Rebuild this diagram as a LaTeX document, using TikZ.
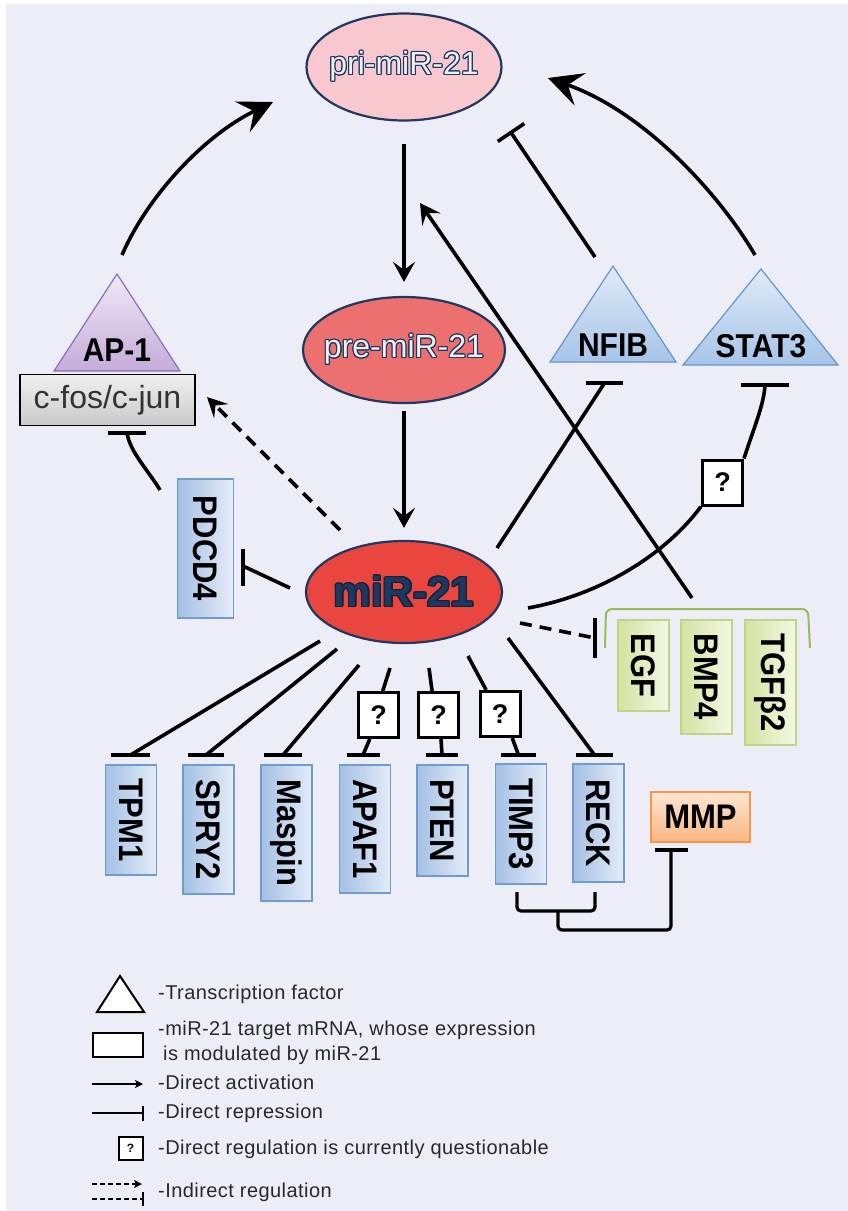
\documentclass[tikz,border=0pt]{standalone}
\usepackage{fontspec}
\setmainfont{Liberation Sans}
\newfontfamily\legfont[LetterSpace=2.2]{Liberation Sans}
\usepackage{contour}
\contourlength{1.1pt}
\usetikzlibrary{arrows.meta,shapes.geometric}
\definecolor{bgc}{RGB}{237,237,248}
\definecolor{navy}{RGB}{31,56,96}
\definecolor{pripink}{RGB}{248,200,206}
\definecolor{prered}{RGB}{236,112,112}
\definecolor{mirred}{RGB}{232,70,62}
\definecolor{blueL}{RGB}{228,236,248}
\definecolor{blueD}{RGB}{164,192,228}
\definecolor{blueB}{RGB}{110,155,208}
\definecolor{greenL}{RGB}{244,248,228}
\definecolor{greenD}{RGB}{212,226,160}
\definecolor{greenB}{RGB}{190,212,135}
\definecolor{brack}{RGB}{155,187,89}
\definecolor{purL}{RGB}{240,232,246}
\definecolor{purD}{RGB}{196,172,218}
\definecolor{purB}{RGB}{140,110,180}
\definecolor{orL}{RGB}{253,230,212}
\definecolor{orD}{RGB}{249,182,130}
\definecolor{orB}{RGB}{247,150,70}
\definecolor{triL}{RGB}{224,234,247}
\definecolor{triD}{RGB}{166,196,232}
\definecolor{triB}{RGB}{100,150,205}
\definecolor{txtlight}{RGB}{236,240,240}
\definecolor{legtxt}{RGB}{40,40,40}
\newcommand{\vlab}[1]{\rotatebox{-90}{\scalebox{1}[1.1]{#1}}}
\newcommand{\hlab}[1]{\scalebox{1}[1.1]{#1}}
\tikzset{
  conn/.style={line width=3.6pt, black},
  act/.style={conn, -{Stealth[length=20pt,width=22pt,inset=8pt]}},
  bigact/.style={conn, -{Stealth[length=34pt,width=34pt,inset=13pt]}},
  dashconn/.style={conn, dash pattern=on 12pt off 8pt},
  tbar/.style={line width=4pt, black},
  brk/.style={line width=3.2pt, black, rounded corners=4pt},
  qbox/.style={draw=black, line width=3pt, fill=white, minimum width=40pt, minimum height=45pt, inner sep=0pt, font=\bfseries\fontsize{27}{30}\selectfont},
  tbox/.style={draw=blueB, line width=1.5pt, left color=blueD, right color=blueL, inner sep=0pt, minimum width=51pt, font=\bfseries\fontsize{31}{36}\selectfont},
  gbox/.style={draw=greenB, line width=1.5pt, left color=greenD, right color=greenL, inner sep=0pt, minimum width=51pt, font=\bfseries\fontsize{31}{36}\selectfont},
  ell/.style={ellipse, draw=navy, line width=2.2pt, inner sep=0pt},
  lbl/.style={font=\bfseries\fontsize{30}{36}\selectfont, inner sep=0pt},
  legtext/.style={anchor=base west, font=\legfont\fontsize{20}{24}\selectfont, text=legtxt, inner sep=0pt},
  legline/.style={line width=1.4pt, black},
}
\begin{document}
\begin{tikzpicture}[x=1pt,y=-1pt]
\useasboundingbox (0,0) rectangle (848,1211);
\fill[white] (0,0) rectangle (848,1211);
\fill[bgc] (6,4) rectangle (848,1211);

% ---------- ellipses ----------
\node[ell, fill=pripink, minimum width=195pt, minimum height=107pt,
  label={[text=txtlight, font=\fontsize{32}{36}\selectfont]center:\contour{navy}{pri-miR-21}}] (pri) at (404,67) {};
\node[ell, fill=prered, minimum width=202pt, minimum height=106pt,
  label={[text=txtlight, font=\fontsize{32}{36}\selectfont]center:\contour{navy}{pre-miR-21}}] (pre) at (404,350) {};
\node[ell, fill=mirred, minimum width=196pt, minimum height=102pt,
  label={[text=navy, font=\bfseries\fontsize{42}{48}\selectfont]center:\contour{navy!60!black}{miR-21}}] (mir) at (404,592) {};

% ---------- triangles ----------
\shade[top color=purL, bottom color=purD, draw=purB, line width=1.2pt] (117,274) -- (180,371) -- (54,371) -- cycle;
\node[lbl] (ap1) at (117,350) {\hlab{AP-1}};
\shade[top color=triL, bottom color=triD, draw=triB, line width=1.2pt] (613,266) -- (676,362) -- (550,362) -- cycle;
\node[lbl] (nfib) at (613,345) {\hlab{NFIB}};
\shade[top color=triL, bottom color=triD, draw=triB, line width=1.2pt] (761,269) -- (838,365) -- (683,365) -- cycle;
\node[lbl] (stat3) at (761,346) {\hlab{STAT3}};

% ---------- c-fos/c-jun ----------
\node[draw=black, line width=1.5pt, top color=gray!12, bottom color=gray!42, minimum width=175pt, minimum height=51pt, inner sep=0pt, text=black!80, font=\fontsize{32}{36}\selectfont] (cfos) at (107.5,400) {c-fos/c-jun};

% ---------- target boxes ----------
\node[tbox, minimum width=56pt, minimum height=139pt] (pdcd4) at (205.5,548.5) {\vlab{PDCD4}};
\node[tbox, minimum height=110pt] (tpm1) at (131,820) {\vlab{TPM1}};
\node[tbox, minimum height=129pt] (spry2) at (208.5,829.5) {\vlab{SPRY2}};
\node[tbox, minimum height=136pt] (maspin) at (286.5,833) {\vlab{Maspin}};
\node[tbox, minimum height=128pt] (apaf1) at (365,829) {\vlab{APAF1}};
\node[tbox, minimum height=111pt] (pten) at (442.5,820.5) {\vlab{PTEN}};
\node[tbox, minimum height=120pt] (timp3) at (521,824) {\vlab{TIMP3}};
\node[tbox, minimum height=118pt] (reck) at (598.5,823) {\vlab{RECK}};
\node[gbox, minimum height=91pt] (egf) at (643.5,665.5) {\vlab{EGF}};
\node[gbox, minimum height=114pt] (bmp4) at (706.5,677) {\vlab{BMP4}};
\node[gbox, minimum height=125pt] (tgfb2) at (770.5,682.5) {\vlab{TGFβ2}};
\node[draw=orB, line width=1.5pt, top color=orL, bottom color=orD, minimum width=99pt, minimum height=50pt, inner sep=0pt, font=\bfseries\fontsize{31}{36}\selectfont] (mmp) at (700.5,817) {\hlab{MMP}};

% ---------- question boxes ----------
\node[qbox] (q1) at (722.5,482.5) {?};
\node[qbox] (q2) at (378.5,715) {?};
\node[qbox] (q3) at (438.5,715) {?};
\node[qbox] (q4) at (500,714) {?};

% ---------- coordinates for free ends ----------
\coordinate (ap1top) at (122,255);
\coordinate (priL) at (273,102);
\coordinate (stat3top) at (755,255);
\coordinate (priR) at (548,78);
\coordinate (nfibtop) at (595,257);
\coordinate (priNF) at (510,131);
\coordinate (bmpTop) at (692,598);
\coordinate (priB) at (420,203);
\coordinate (mirDL) at (340,530);
\coordinate (cfosTip) at (207,397);
\coordinate (mirNF) at (497,548);
\coordinate (nfibT) at (604.5,383);
\coordinate (mirS) at (528,608);
\coordinate (stat3T) at (765,385);
\coordinate (pdcdTop) at (160,490);
\coordinate (cfosT) at (127,433);
\coordinate (mirP) at (290,588);
\coordinate (pdcdT) at (243,566);
\coordinate (mirE) at (520,623);
\coordinate (egfT) at (595,638);
\coordinate (m1) at (320,641);
\coordinate (m2) at (337,649);
\coordinate (m3) at (359,665);
\coordinate (m4) at (390,668);
\coordinate (m5) at (429,668);
\coordinate (m6) at (468,656);
\coordinate (m7) at (508,638);
\coordinate (tpmT) at (130.5,755);
\coordinate (spryT) at (206,755);
\coordinate (maspT) at (283,755);
\coordinate (apafT) at (363,755);
\coordinate (ptenT) at (442,755);
\coordinate (timpT) at (518.5,755);
\coordinate (reckT) at (594.5,755);
\coordinate (timpB) at (517,892);
\coordinate (reckB) at (595,892);
\coordinate (jA) at (558,911);
\coordinate (mmpT) at (671,850);

% ---------- main pathway ----------
\draw[act, shorten <=22pt, shorten >=14pt] (pri.south) -- (pre.north);
\draw[act, shorten <=7pt, shorten >=12pt] (pre.south) -- (mir.north);
\draw[bigact] (ap1top) .. controls (148,195) and (205,135) .. (priL);
\draw[bigact] (stat3top) .. controls (720,195) and (645,112) .. (priR);
\draw[conn, -{Bar[width=32pt]}] (nfibtop) -- (priNF);
\draw[act] (bmpTop) -- (priB);
\draw[dashconn, -{Stealth[length=20pt,width=20pt,inset=8pt]}] (mirDL) -- (cfosTip);

% miR-21 -| NFIB
\draw[conn] (mirNF) -- (nfibT);
\draw[tbar] (nfibT) ++(-18.5,0) -- ++(37,0);
% miR-21 -? -| STAT3
\draw[conn] (mirS) .. controls (600,595) and (665,555) .. (q1.south west);
\draw[conn] (q1.north east) .. controls (753,430) and (764,405) .. (stat3T);
\draw[tbar] (stat3T) ++(-24,0) -- ++(48,0);
% PDCD4 -| c-fos/c-jun
\draw[conn] (pdcdTop) .. controls (148,470) and (130,452) .. (cfosT);
\draw[tbar] (cfosT) ++(-19,0) -- ++(38,0);
% miR-21 -| PDCD4
\draw[conn] (mirP) -- (pdcdT);
\draw[tbar] (pdcdT) ++(0,-17) -- ++(0,37);
% miR-21 --| EGF group
\draw[dashconn] (mirE) -- (egfT);
\draw[tbar] (egfT) ++(0,-20) -- ++(0,40);
\draw[brack, line width=2pt, rounded corners=6pt] (605,648) -- (606,609) -- (808,609) -- (810,648);

% bottom targets
\draw[conn] (m1) -- (tpmT);  \draw[tbar] (tpmT) ++(-19.5,0) -- ++(39,0);
\draw[conn] (m2) -- (spryT); \draw[tbar] (spryT) ++(-18,0) -- ++(36,0);
\draw[conn] (m3) -- (maspT); \draw[tbar] (maspT) ++(-19,0) -- ++(38,0);
\draw[conn] (m4) -- (q2.80);  \draw[conn] (q2.-110) -- (apafT); \draw[tbar] (apafT) ++(-16.5,0) -- ++(33,0);
\draw[conn] (m5) -- (q3.105); \draw[conn] (q3.-84) -- (ptenT); \draw[tbar] (ptenT) ++(-16,0) -- ++(32,0);
\draw[conn] (m6) -- (q4.120); \draw[conn] (q4.-63) -- (timpT); \draw[tbar] (timpT) ++(-17.5,0) -- ++(35,0);
\draw[conn] (m7) -- (reckT); \draw[tbar] (reckT) ++(-18.5,0) -- ++(37,0);

% TIMP3 / RECK -| MMP
\draw[brk] (timpB) -- (517,911) -- (595,911) -- (reckB);
\draw[brk] (jA) -- (558,930) -- (671,930) -- (mmpT);
\draw[tbar] (mmpT) ++(-16.5,0) -- ++(33,0);

% ---------- legend ----------
\draw[line width=2pt, fill=white] (120,976) -- (144,1012) -- (97,1012) -- cycle;
\node[legtext] (l1) at (158,999) {-Transcription factor};
\node[draw=black, line width=2pt, fill=white, minimum width=50pt, minimum height=24pt, inner sep=0pt] (lrect) at (118,1045) {};
\node[legtext] (l2) at (158,1035) {-miR-21 target mRNA, whose expression};
\node[legtext] (l3) at (163,1060) {is modulated by miR-21};
\draw[legline, -{Stealth[length=8pt,width=8pt,inset=2pt]}] (92,1084) -- (143,1084);
\node[legtext] (l4) at (158,1089) {-Direct activation};
\draw[legline] (92,1113) -- (143,1113);
\draw[legline] (143,1106) -- (143,1121);
\node[legtext] (l5) at (158,1118) {-Direct repression};
\node[draw=black, line width=2pt, fill=white, minimum width=24pt, minimum height=23pt, inner sep=0pt, font=\bfseries\fontsize{12}{14}\selectfont] (lq) at (130.5,1148.5) {?};
\node[legtext] (l6) at (158,1154) {-Direct regulation is currently questionable};
\draw[legline, dash pattern=on 5pt off 3pt, -{Stealth[length=8pt,width=8pt,inset=2pt]}] (92,1184) -- (142,1184);
\draw[legline, dash pattern=on 5pt off 3pt] (92,1199) -- (142,1199);
\draw[legline] (143,1192) -- (143,1206);
\node[legtext] (l7) at (158,1197) {-Indirect regulation};
\end{tikzpicture}
\end{document}
